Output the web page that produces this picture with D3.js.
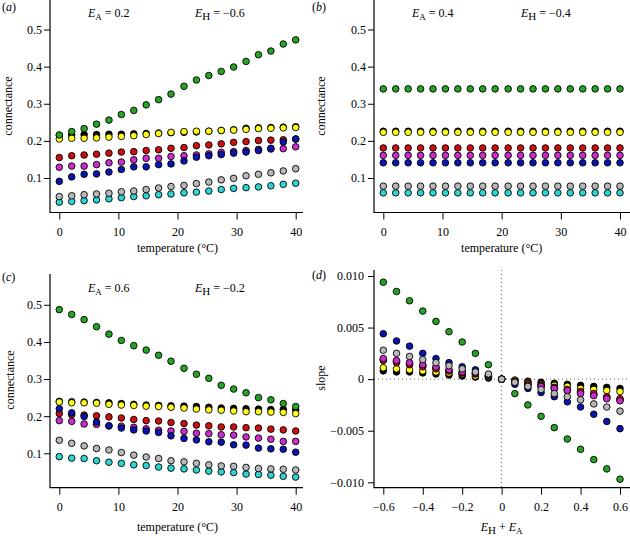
<!DOCTYPE html>
<html><head><meta charset="utf-8">
<script src="https://cdn.jsdelivr.net/npm/d3@7"></script>
<style>
body{margin:0;background:#fff}
svg{display:block}
text{font-family:"Liberation Serif","Times New Roman",serif;fill:#000}
</style>
</head><body>
<svg id="chart" width="630" height="536"></svg>
<script>
// ---------- data ----------
const temperature = [0,2.1,4.2,6.3,8.4,10.5,12.6,14.7,16.8,18.9,21.1,23.2,25.3,27.4,29.5,31.6,33.7,35.8,37.9,40];
const eSum = [-0.6,-0.533,-0.467,-0.4,-0.333,-0.267,-0.2,-0.133,-0.067,0,0.067,0.133,0.2,0.267,0.333,0.4,0.467,0.533,0.6];

const seriesNames = ["cyan","black","yellow","red","magenta","blue","green","grey"];
const seriesColors = ["#2ed3d3","#000000","#ffff1e","#cc1010","#cc2ccc","#0a14b0","#26a326","#b8b8b8"];

// panel (a)  E_A = 0.2, E_H = -0.6
const a_green   = [0.216,0.225,0.233,0.245,0.256,0.271,0.282,0.297,0.311,0.326,0.347,0.364,0.376,0.387,0.399,0.414,0.432,0.442,0.461,0.472];
const a_black   = [0.215,0.216,0.217,0.217,0.218,0.218,0.219,0.220,0.221,0.222,0.223,0.224,0.226,0.228,0.230,0.234,0.235,0.236,0.237,0.238];
const a_yellow  = [0.205,0.207,0.207,0.208,0.210,0.212,0.214,0.217,0.220,0.223,0.225,0.226,0.226,0.228,0.229,0.231,0.233,0.234,0.235,0.236];
const a_red     = [0.155,0.160,0.162,0.164,0.167,0.170,0.171,0.174,0.176,0.180,0.182,0.187,0.189,0.192,0.196,0.198,0.201,0.202,0.203,0.205];
const a_magenta = [0.129,0.132,0.132,0.136,0.141,0.143,0.149,0.153,0.153,0.158,0.160,0.162,0.165,0.169,0.171,0.174,0.177,0.178,0.179,0.184];
const a_blue    = [0.091,0.103,0.110,0.111,0.116,0.123,0.130,0.130,0.136,0.138,0.146,0.156,0.160,0.163,0.167,0.170,0.174,0.180,0.197,0.205];
const a_grey    = [0.050,0.052,0.055,0.057,0.059,0.063,0.065,0.069,0.073,0.077,0.080,0.085,0.089,0.095,0.099,0.106,0.110,0.114,0.119,0.125];
const a_cyan    = [0.035,0.037,0.039,0.041,0.044,0.047,0.050,0.052,0.055,0.057,0.060,0.062,0.065,0.069,0.072,0.074,0.076,0.079,0.083,0.086];

// panel (b)  E_A = 0.4, E_H = -0.4
const b_green   = [0.340,0.340,0.340,0.340,0.340,0.340,0.340,0.340,0.340,0.340,0.340,0.340,0.340,0.340,0.340,0.340,0.340,0.340,0.340,0.340];
const b_black   = [0.226,0.226,0.226,0.226,0.226,0.226,0.226,0.226,0.226,0.226,0.226,0.226,0.226,0.226,0.226,0.226,0.226,0.226,0.226,0.226];
const b_yellow  = [0.223,0.223,0.223,0.223,0.223,0.223,0.223,0.223,0.223,0.223,0.223,0.223,0.223,0.223,0.223,0.223,0.223,0.223,0.223,0.223];
const b_red     = [0.181,0.181,0.181,0.181,0.181,0.181,0.181,0.181,0.181,0.181,0.181,0.181,0.181,0.181,0.181,0.181,0.181,0.181,0.181,0.181];
const b_magenta = [0.161,0.161,0.161,0.161,0.161,0.161,0.161,0.161,0.161,0.161,0.161,0.161,0.161,0.161,0.161,0.161,0.161,0.161,0.161,0.161];
const b_blue    = [0.141,0.141,0.141,0.141,0.141,0.141,0.141,0.141,0.141,0.141,0.141,0.141,0.141,0.141,0.141,0.141,0.141,0.141,0.141,0.141];
const b_grey    = [0.078,0.078,0.078,0.078,0.078,0.078,0.078,0.078,0.078,0.078,0.078,0.078,0.078,0.078,0.078,0.078,0.078,0.078,0.078,0.078];
const b_cyan    = [0.060,0.060,0.060,0.060,0.060,0.060,0.060,0.060,0.060,0.060,0.060,0.060,0.060,0.060,0.060,0.060,0.060,0.060,0.060,0.060];

// panel (c)  E_A = 0.6, E_H = -0.2
const c_green   = [0.487,0.474,0.460,0.441,0.421,0.404,0.390,0.378,0.364,0.348,0.329,0.313,0.302,0.283,0.273,0.263,0.250,0.244,0.234,0.226];
const c_black   = [0.240,0.239,0.238,0.237,0.236,0.234,0.232,0.230,0.229,0.228,0.227,0.226,0.224,0.222,0.221,0.220,0.219,0.218,0.218,0.217];
const c_yellow  = [0.238,0.236,0.236,0.235,0.232,0.230,0.229,0.227,0.226,0.224,0.222,0.219,0.217,0.216,0.214,0.212,0.212,0.211,0.210,0.207];
const c_red     = [0.207,0.204,0.203,0.201,0.198,0.195,0.191,0.188,0.187,0.183,0.180,0.176,0.174,0.171,0.171,0.169,0.168,0.165,0.163,0.160];
const c_magenta = [0.188,0.186,0.179,0.178,0.174,0.173,0.170,0.166,0.162,0.160,0.159,0.154,0.153,0.150,0.149,0.144,0.141,0.138,0.132,0.132];
const c_blue    = [0.220,0.209,0.199,0.184,0.174,0.168,0.163,0.160,0.156,0.147,0.140,0.136,0.131,0.130,0.123,0.122,0.114,0.112,0.111,0.103];
const c_grey    = [0.135,0.127,0.120,0.113,0.109,0.102,0.095,0.090,0.086,0.080,0.077,0.073,0.069,0.066,0.065,0.062,0.059,0.058,0.057,0.055];
const c_cyan    = [0.091,0.087,0.086,0.080,0.076,0.073,0.069,0.067,0.063,0.060,0.058,0.055,0.052,0.050,0.048,0.044,0.043,0.041,0.038,0.036];

// panel (d)  slope vs E_H + E_A
const d_green   = [0.0094,0.0085,0.0076,0.0066,0.0056,0.0046,0.0036,0.0025,0.0014,0,-0.0014,-0.0025,-0.0036,-0.0047,-0.0058,-0.0068,-0.0078,-0.0087,-0.0097];
const d_black   = [0.0008,0.0007,0.0007,0.0006,0.0005,0.0004,0.0003,0.0002,0.0001,0,-0.0001,-0.0002,-0.0003,-0.0004,-0.0005,-0.0006,-0.0007,-0.0008,-0.0009];
const d_yellow  = [0.0011,0.0010,0.0009,0.0008,0.0007,0.0006,0.0005,0.0003,0.0002,0,-0.0001,-0.0003,-0.0005,-0.0006,-0.0007,-0.0009,-0.0010,-0.0011,-0.0012];
const d_red     = [0.0018,0.0016,0.0014,0.0012,0.0010,0.0008,0.0006,0.0005,0.0003,0,-0.0002,-0.0004,-0.0006,-0.0008,-0.0010,-0.0012,-0.0014,-0.0017,-0.0019];
const d_magenta = [0.0020,0.0018,0.0016,0.0014,0.0012,0.0009,0.0007,0.0006,0.0003,0,-0.0003,-0.0006,-0.0007,-0.0009,-0.0011,-0.0014,-0.0016,-0.0019,-0.0021];
const d_blue    = [0.0044,0.0037,0.0032,0.0025,0.0020,0.0016,0.0012,0.0009,0.0004,0,-0.0005,-0.0009,-0.0013,-0.0017,-0.0022,-0.0027,-0.0034,-0.0041,-0.0048];
const d_grey    = [0.0028,0.0025,0.0022,0.0019,0.0016,0.0013,0.0010,0.0007,0.0005,0,-0.0003,-0.0007,-0.0010,-0.0014,-0.0017,-0.0020,-0.0024,-0.0027,-0.0031];
const d_cyan    = [0.0019,0.0017,0.0015,0.0013,0.0011,0.0008,0.0006,0.0005,0.0003,0,-0.0003,-0.0005,-0.0007,-0.0009,-0.0011,-0.0013,-0.0015,-0.0018,-0.0020];

// tick labels
const connTicks  = [0.1,0.2,0.3,0.4,0.5];
const tempTicks  = [0,10,20,30,40];
const slopeTicks = [-0.010,-0.005,0,0.005,0.010];
const eTicks     = [-0.6,-0.4,-0.2,0,0.2,0.4,0.6];

// ---------- build ----------
const svg = d3.select("#chart");
const minus = s => s.replace(/-/g, "\u2212");

const panels = [
  {label:"a", xs:temperature, data:{cyan:a_cyan,black:a_black,yellow:a_yellow,red:a_red,magenta:a_magenta,blue:a_blue,green:a_green,grey:a_grey},
   fx0:50, fx1:303, fy0:0, fy1:212.5, xr:[59.3,295.7], yr:[178,29.5], xdom:[0,40], ydom:[0.1,0.5],
   xt:tempTicks, yt:connTicks, xf:d=>String(d), yf:d3.format(".1f"),
   ea:"0.2", eh:"\u22120.6", titleX:[88,195], titleY:17, ylab:"connectance", xlab:"temperature (\u00b0C)"},
  {label:"b", xs:temperature, data:{cyan:b_cyan,black:b_black,yellow:b_yellow,red:b_red,magenta:b_magenta,blue:b_blue,green:b_green,grey:b_grey},
   fx0:374, fx1:630, fy0:0, fy1:212.5, xr:[383.3,620], yr:[178,29.5], xdom:[0,40], ydom:[0.1,0.5],
   xt:tempTicks, yt:connTicks, xf:d=>String(d), yf:d3.format(".1f"),
   ea:"0.4", eh:"\u22120.4", titleX:[412,521], titleY:17, ylab:"connectance", xlab:"temperature (\u00b0C)"},
  {label:"c", xs:temperature, data:{cyan:c_cyan,black:c_black,yellow:c_yellow,red:c_red,magenta:c_magenta,blue:c_blue,green:c_green,grey:c_grey},
   fx0:50, fx1:303, fy0:274, fy1:487.7, xr:[59.3,295.7], yr:[453.3,304.8], xdom:[0,40], ydom:[0.1,0.5],
   xt:tempTicks, yt:connTicks, xf:d=>String(d), yf:d3.format(".1f"),
   ea:"0.6", eh:"\u22120.2", titleX:[88,195], titleY:292, ylab:"connectance", xlab:"temperature (\u00b0C)"},
  {label:"d", xs:eSum, data:{cyan:d_cyan,black:d_black,yellow:d_yellow,red:d_red,magenta:d_magenta,blue:d_blue,green:d_green,grey:d_grey},
   fx0:374, fx1:630, fy0:270, fy1:487.7, xr:[383.3,620], yr:[482.3,276], xdom:[-0.6,0.6], ydom:[-0.010,0.010],
   xt:eTicks, yt:slopeTicks, xf:d=>minus(d3.format(".1f")(d)).replace("\u22120.0","0").replace(/^0\.0$/,"0"),
   yf:d=>d===0?"0":minus(d3.format(".3f")(d)), ylab:"slope", xlab:null}
];

const ylabPos = {a:[12,106], b:[325,106], c:[14,380], d:[325,378]};
const xlabY = {a:252, b:252, c:531, d:531};
const panelLabPos = {a:[2,11], b:[312,11], c:[2,281], d:[312,279]};

panels.forEach(p => {
  const g = svg.append("g");
  const x = d3.scaleLinear().domain(p.xdom).range(p.xr);
  const y = d3.scaleLinear().domain(p.ydom).range(p.yr);

  // dotted reference lines (panel d)
  if (p.label === "d") {
    g.append("line").attr("x1",p.fx0).attr("x2",p.fx1).attr("y1",y(0)).attr("y2",y(0))
      .attr("stroke","#666").attr("stroke-width",1).attr("stroke-dasharray","1,3");
    g.append("line").attr("x1",x(0)).attr("x2",x(0)).attr("y1",p.fy0).attr("y2",p.fy1)
      .attr("stroke","#666").attr("stroke-width",1).attr("stroke-dasharray","1,3");
  }

  // L frame
  g.append("path").attr("d",`M${p.fx0},${p.fy0}V${p.fy1}H${p.fx1}`)
    .attr("fill","none").attr("stroke","#000").attr("stroke-width",1.2);

  // axes
  const ax = g.append("g").attr("transform",`translate(0,${p.fy1})`)
    .call(d3.axisBottom(x).tickValues(p.xt).tickFormat(p.xf).tickSize(7).tickPadding(8));
  const ay = g.append("g").attr("transform",`translate(${p.fx0},0)`)
    .call(d3.axisLeft(y).tickValues(p.yt).tickFormat(p.yf).tickSize(6).tickPadding(p.label==="d"?4:2));
  [ax,ay].forEach(a => {
    a.select(".domain").remove();
    a.selectAll("line").attr("stroke","#000").attr("stroke-width",1);
    a.selectAll("text").attr("font-family","Liberation Serif, serif").attr("font-size",12).attr("fill","#000");
  });

  // points
  seriesNames.forEach((name, si) => {
    const vals = p.data[name];
    g.append("g").selectAll("circle").data(vals).join("circle")
      .attr("cx",(d,i)=>x(p.xs[i])).attr("cy",d=>y(d)).attr("r",3.3)
      .attr("fill",seriesColors[si]).attr("stroke","#000").attr("stroke-width",0.9);
  });

  // panel label
  const pl = g.append("text").attr("x",panelLabPos[p.label][0]).attr("y",panelLabPos[p.label][1]).attr("font-size",12);
  pl.append("tspan").text("(");
  pl.append("tspan").attr("font-style","italic").text(p.label);
  pl.append("tspan").text(")");

  // titles
  if (p.ea) {
    const t1 = g.append("text").attr("x",p.titleX[0]).attr("y",p.titleY).attr("font-size",12);
    t1.append("tspan").attr("font-style","italic").text("E");
    t1.append("tspan").attr("font-size",9).attr("dy",3).text("A");
    t1.append("tspan").attr("dy",-3).text(" = " + p.ea);
    const t2 = g.append("text").attr("x",p.titleX[1]).attr("y",p.titleY).attr("font-size",12);
    t2.append("tspan").attr("font-style","italic").text("E");
    t2.append("tspan").attr("font-size",11).attr("dy",3).text("H");
    t2.append("tspan").attr("dy",-3).text(" = " + p.eh);
  }

  // y label
  const yl = ylabPos[p.label];
  g.append("text").attr("transform",`translate(${yl[0]},${yl[1]}) rotate(-90)`)
    .attr("text-anchor","middle").attr("font-size",12).text(p.ylab);

  // x label
  const cx = (p.xr[0]+p.xr[1])/2;
  if (p.xlab) {
    g.append("text").attr("x",cx).attr("y",xlabY[p.label]).attr("text-anchor","middle").attr("font-size",12).text(p.xlab);
  } else {
    const xl = g.append("text").attr("x",cx).attr("y",xlabY[p.label]).attr("text-anchor","middle").attr("font-size",12);
    xl.append("tspan").attr("font-style","italic").text("E");
    xl.append("tspan").attr("font-size",11).attr("dy",3).text("H");
    xl.append("tspan").attr("dy",-3).text(" + ");
    xl.append("tspan").attr("font-style","italic").text("E");
    xl.append("tspan").attr("font-size",9).attr("dy",3).text("A");
  }
});
</script>
</body></html>
